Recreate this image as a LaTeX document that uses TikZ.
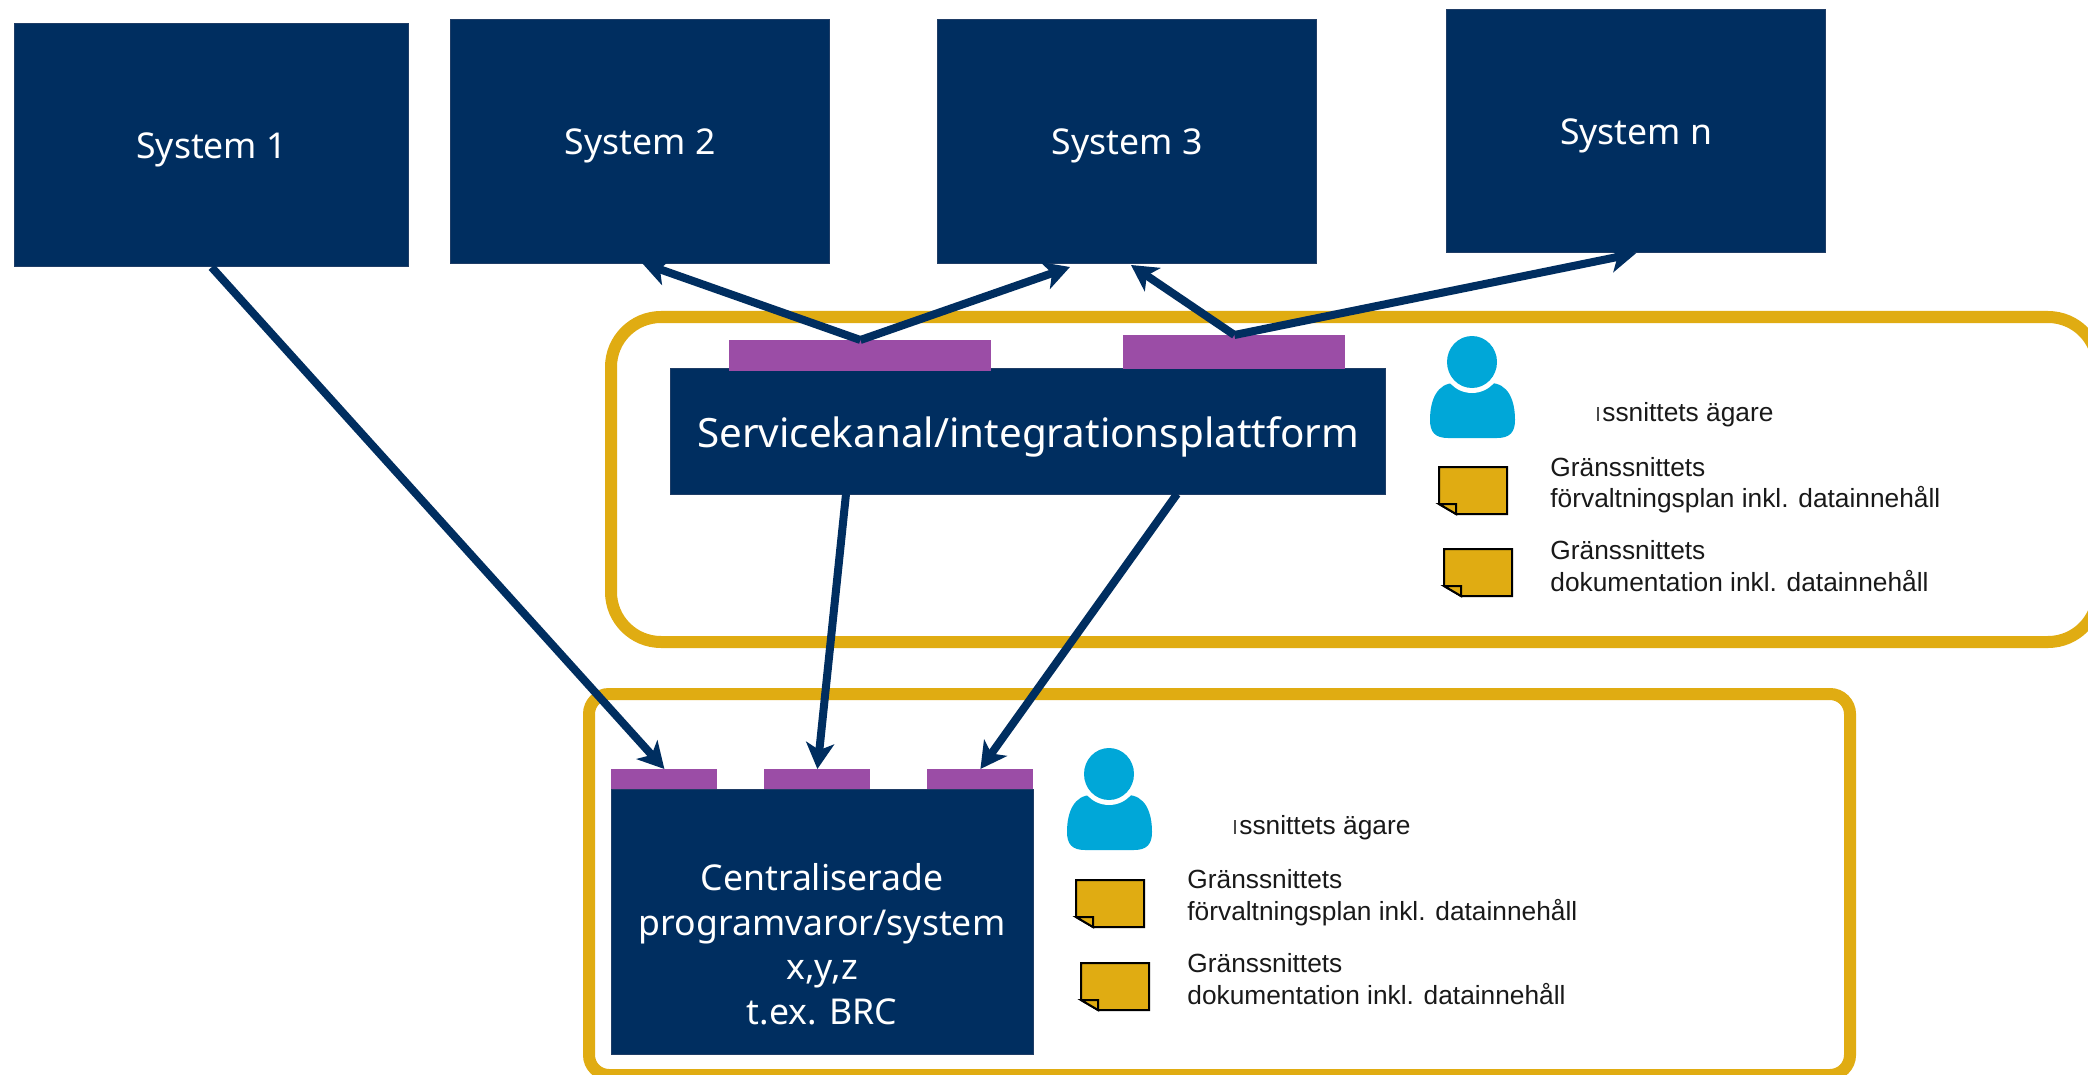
\documentclass[tikz,border=0pt]{standalone}
\usepackage{fontspec}
\setmainfont{Noto Sans}
\newfontfamily\lab{Liberation Sans}
\usetikzlibrary{arrows.meta,calc}
\definecolor{navy}{HTML}{002E60}
\definecolor{navyd}{HTML}{1F3D66}
\definecolor{purp}{HTML}{9B4DA6}
\definecolor{gold}{HTML}{E0AC12}
\definecolor{sky}{HTML}{00A7D8}
\newcommand{\lowered}[2]{\raisebox{-#1}[0pt][0pt]{#2}}
\tikzset{
  sysbox/.style={draw=navyd,line width=0.6pt,fill=navy,text=white,inner sep=0pt,anchor=north west,align=center,font=\fontsize{17.8}{22.25}\selectfont},
  tab/.style={fill=purp,inner sep=0pt,anchor=north west,minimum height=10pt,minimum width=53pt},
  frame/.style={draw=gold,line width=6pt},
  link/.style={draw=navy,line width=4pt,-{Stealth[length=13pt,width=14pt,inset=3.5pt]}},
  lbl/.style={font=\lab\fontsize{13.15}{16}\selectfont,text=black!90,inner sep=0pt,anchor=base west,align=left},
  pics/note/.style={code={
    \draw[black,line width=1pt,fill=gold,line join=miter] (0,0) -- (68,0) -- (68,47) -- (17,47) -- (0,37) -- cycle;
    \draw[black,line width=1pt,fill=gold] (0,37) -- (17,37) -- (17,47) -- cycle;
  }},
  pics/person/.style={code={
    \fill[sky] (-24,76) -- (25,76) .. controls (38,76) and (43,70) .. (43,58) .. controls (43,38) and (36,21) .. (18,21) -- (-17,21) .. controls (-35,21) and (-42,38) .. (-42,58) .. controls (-42,70) and (-37,76) .. (-24,76) -- cycle;
    \fill[white] (0,0) ellipse [x radius=15pt, y radius=15.5pt];
    \fill[sky] (0,0) ellipse [x radius=12.5pt, y radius=13pt];
  }},
}
\begin{document}
\begin{tikzpicture}[x=0.5pt,y=-0.5pt]
\clip (0,0) rectangle (2088,1075);
\fill[white] (0,0) rectangle (2088,1075);
% frames
\draw[frame,rounded corners=25pt] (611,317) rectangle (2098,642);
\draw[frame,rounded corners=10pt] (589,694) rectangle (1850,1075);
% systems
\node[sysbox,minimum width=197pt,minimum height=121.5pt] (sys1) at (14,23) {\lowered{6.5pt}{System 1}};
\node[sysbox,minimum width=189.5pt,minimum height=122pt] (sys2) at (450,19) {\lowered{6.5pt}{System 2}};
\node[sysbox,minimum width=189.5pt,minimum height=122pt] (sys3) at (937,19) {\lowered{6.5pt}{System 3}};
\node[sysbox,minimum width=189.5pt,minimum height=121.5pt] (sysn) at (1446,9) {\lowered{6.5pt}{System n}};
% service channel
\node[sysbox,minimum width=357.5pt,minimum height=63pt,font=\fontsize{20.2}{24}\selectfont] (svc) at (670,368) {\lowered{8pt}{Servicekanal/integrationsplattform}};
\node[tab,minimum width=131pt,minimum height=15.5pt] (p1) at (729,340) {};
\node[tab,minimum width=111pt,minimum height=17pt] (p2) at (1123,335) {};
% central
\node[sysbox,minimum width=211pt,minimum height=132.5pt] (cen) at (611,789) {};
\node[font=\fontsize{17.8}{22.25}\selectfont,text=white,align=center,inner sep=0pt,anchor=center] (centxt) at (822,944) {Centraliserade\\programvaror/system\\x,y,z\\t.ex. BRC};
\node[tab] (t1) at (611,769) {};
\node[tab] (t2) at (764,769) {};
\node[tab] (t3) at (927,769) {};
% free connector ends
\coordinate (svcl) at (846,494);
\coordinate (svcr) at (1177,494);
\coordinate (s3l) at (1070,267);
\coordinate (s3r) at (1131,265);
\coordinate (s2r) at (642,263);
% connectors
\draw[link] (sys1.south) -- (t1.north);
\draw[link] (svcl) -- (t2.north);
\draw[link] (svcr) -- (t3.north);
\draw[link] (p1.north) -- (s2r);
\draw[link] (p1.north) -- (s3l);
\draw[link] (p2.north) -- (s3r);
\draw[link] (p2.north) -- (sysn.south);
% icons upper
\pic at (1472,362) {person};
\pic at (1439,467) {note};
\pic at (1444,549) {note};
% icons lower
\pic at (1109,774) {person};
\pic at (1076,880) {note};
\pic at (1081,963) {note};
% labels upper
\fill[black!70] (1597,407) rectangle (1598.5,421);
\node[lbl] (ua) at (1602,421) {ssnittets ägare};
\node[lbl] (ub) at (1550,476) {Gränssnittets};
\node[lbl] (uc) at (1550,507) {förvaltningsplan inkl. datainnehåll};
\node[lbl] (ud) at (1550,559) {Gränssnittets};
\node[lbl] (ue) at (1550,591) {dokumentation inkl. datainnehåll};
% labels lower
\fill[black!70] (1234,820) rectangle (1235.5,834);
\node[lbl] (la) at (1239,834) {ssnittets ägare};
\node[lbl] (lb) at (1187,888) {Gränssnittets};
\node[lbl] (lc) at (1187,920) {förvaltningsplan inkl. datainnehåll};
\node[lbl] (ld) at (1187,972) {Gränssnittets};
\node[lbl] (le) at (1187,1004) {dokumentation inkl. datainnehåll};
\end{tikzpicture}
\end{document}
